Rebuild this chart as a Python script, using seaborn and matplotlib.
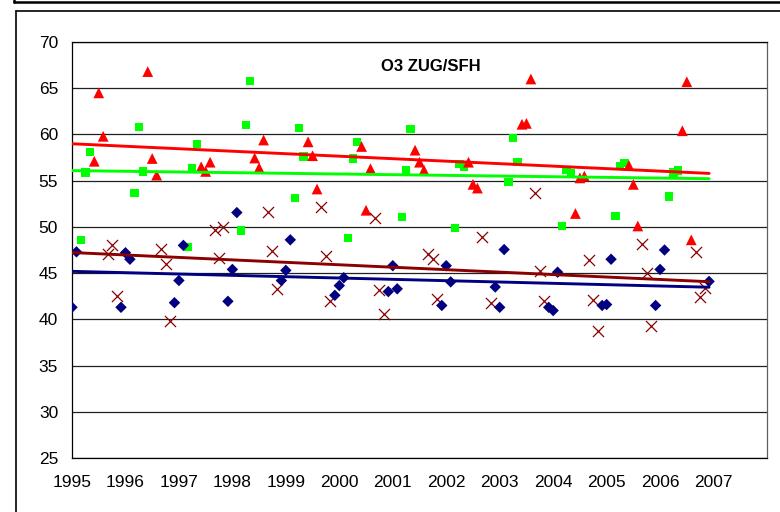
import numpy as np
import pandas as pd
import matplotlib
matplotlib.use("Agg")
import matplotlib.pyplot as plt
import seaborn as sns
from matplotlib.lines import Line2D

# ---------------- data ----------------
years = list(range(1995, 2007))

summer_months = [6, 7, 8]      # red triangles
spring_months = [3, 4, 5]      # green squares
autumn_months = [9, 10, 11]    # dark red crosses
winter_months = [1, 2, 12]     # navy diamonds

summer_vals = [57.1, 64.5, 59.8, 66.8, 57.4, 55.6, 56.5, 56.0, 57.0,
               57.45, 56.4, 59.4, 59.2, 57.7, 54.1, 58.7, 51.8, 56.3,
               58.3, 57.0, 56.15, 57.0, 54.6, 54.2, 61.1, 61.2, 66.0,
               51.45, 55.3, 55.5, 56.65, 54.6, 50.1, 60.4, 65.7, 48.6]
spring_vals = [48.6, 55.9, 58.1, 53.7, 60.8, 56.0, 47.8, 56.4, 59.0,
               49.6, 61.0, 65.8, 53.1, 60.7, 57.6, 48.8, 57.4, 59.15,
               51.1, 56.1, 60.6, 49.9, 56.8, 56.5, 54.85, 59.6, 57.0,
               50.1, 56.15, 55.8, 51.2, 56.6, 56.9, 53.3, 55.9, 56.1]
autumn_vals = [47.1, 48.0, 42.5, 47.6, 46.0, 39.8, 49.7, 46.6, 49.95,
               51.6, 47.4, 43.3, 52.1, 46.9, 41.95, 51.0, 43.2, 40.6,
               47.1, 46.5, 42.2, 48.9, np.nan, 41.8, 53.7, 45.2, 41.95,
               46.4, 42.1, 38.7, 48.1, 45.0, 39.3, 47.3, 42.4, 43.4]
winter_vals = [41.3, 47.3, 41.3, 47.2, 46.5, 41.8, 44.2, 48.0, 41.95,
               45.4, 51.55, 44.2, 45.3, 48.6, 42.6, 43.65, 44.5, 43.0,
               45.8, 43.3, 41.5, 45.8, 44.05, 43.5, 41.3, 47.55, 41.3,
               40.95, 45.1, 41.5, 41.6, 46.5, 41.5, 45.4, 47.5, 44.1]

title = "O3 ZUG/SFH"
y_ticks = [25, 30, 35, 40, 45, 50, 55, 60, 65, 70]
x_ticks = list(range(1995, 2009))
x_labels = [str(y) for y in range(1995, 2008)] + [""]


def make_frame(months, vals):
    xs = [y + (m - 1) / 12 for y in years for m in months]
    return pd.DataFrame({"x": xs, "v": vals}).dropna()


series = [
    (make_frame(spring_months, spring_vals), "s", "#00FF00", 36, 0),
    (make_frame(summer_months, summer_vals), "^", "#FF0000", 60, 0),
    (make_frame(autumn_months, autumn_vals), "x", "#8B0000", 64, 0.9),
    (make_frame(winter_months, winter_vals), "D", "#000080", 34, 0),
]

grid = np.arange(1995, 2006 + 11 / 12 + 1e-6, 1 / 12)

# ---------------- plot ----------------
sns.set_style("white")
plt.rcParams["font.family"] = ["Liberation Sans", "DejaVu Sans"]

fig = plt.figure(figsize=(7.8, 5.12), dpi=100)
ax = fig.add_axes([72 / 780, 1 - 458 / 512, (767 - 72) / 780, 416 / 512])

for df, mk, col, size, lw in series:
    if mk == "x":
        sns.scatterplot(data=df, x="x", y="v", marker=mk, color=col, s=size,
                        linewidth=lw, ax=ax, zorder=3)
    else:
        sns.scatterplot(data=df, x="x", y="v", marker=mk, color=col, s=size,
                        linewidth=0, edgecolor="none", ax=ax, zorder=3)

for df, mk, col, size, lw in series:
    coef = np.polyfit(df["x"], df["v"], 1)
    trend = np.polyval(coef, grid)
    sns.lineplot(x=grid, y=trend, color=col, linewidth=2.1, ax=ax, zorder=4)

ax.set_xlim(1995, 2008)
ax.set_ylim(25, 70)
ax.set_xticks(x_ticks)
ax.set_xticklabels(x_labels)
ax.set_yticks(y_ticks)
ax.set_xlabel("")
ax.set_ylabel("")
ax.grid(False)
ax.yaxis.grid(True, color="#202020", linewidth=0.9)
ax.set_axisbelow(True)
for sp in ax.spines.values():
    sp.set_color("#000000")
    sp.set_linewidth(0.9)
ax.spines["right"].set_color("#606060")
ax.tick_params(axis="both", which="major", direction="out", length=4,
               width=0.9, color="#000000", labelsize=12.5, labelcolor="#000000")
ax.tick_params(axis="x", pad=8)
ax.tick_params(axis="y", pad=6)
ax.text(0.516, 0.94, title, transform=ax.transAxes, ha="center", va="center",
        fontsize=12, fontweight="bold", color="#000000")

# outer frames
W, H = 780, 512
fig.add_artist(Line2D([14 / W, 1], [1 - 2 / H, 1 - 2 / H], color="black",
                      linewidth=1.8, transform=fig.transFigure))
fig.add_artist(Line2D([14 / W, 14 / W], [1, 1 - 2 / H], color="black",
                      linewidth=1.8, transform=fig.transFigure))
fig.add_artist(Line2D([16 / W, 1], [1 - 11 / H, 1 - 11 / H], color="black",
                      linewidth=1.2, transform=fig.transFigure))
fig.add_artist(Line2D([16 / W, 16 / W], [1 - 11 / H, 0], color="black",
                      linewidth=1.2, transform=fig.transFigure))

fig.savefig("out.png", dpi=100)
